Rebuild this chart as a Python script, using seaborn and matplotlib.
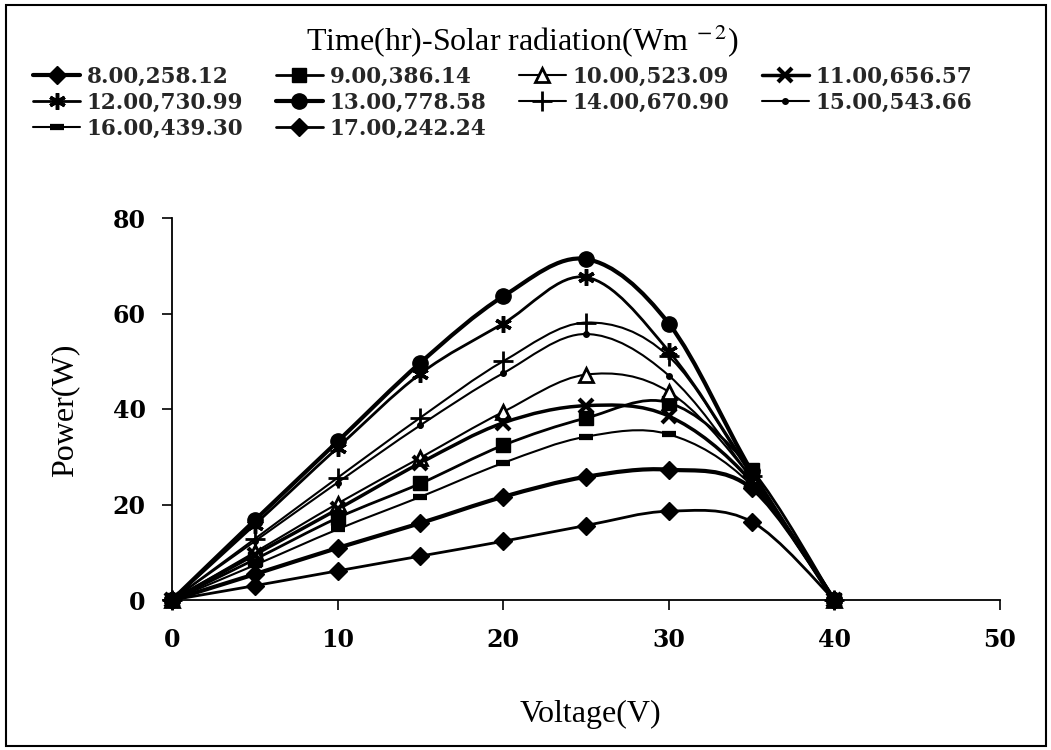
import numpy as np
import pandas as pd
import matplotlib
matplotlib.use("Agg")
import matplotlib.pyplot as plt
import seaborn as sns
from matplotlib.path import Path
from matplotlib.patches import PathPatch, Rectangle
from matplotlib.lines import Line2D

# ---------------- data ----------------
voltage = [0, 5, 10, 15, 20, 25, 30, 35, 40]
series_labels = ["8.00,258.12", "9.00,386.14", "10.00,523.09", "11.00,656.57",
                 "12.00,730.99", "13.00,778.58", "14.00,670.90", "15.00,543.66",
                 "16.00,439.30", "17.00,242.24"]
p_0800 = [0, 5.4, 10.9, 16.1, 21.6, 25.8, 27.3, 23.4, 0]
p_0900 = [0, 8.5, 17.2, 24.4, 32.4, 38.1, 41.3, 27.3, 0]
p_1000 = [0, 10.0, 20.2, 29.8, 39.4, 47.2, 43.6, 25.5, 0]
p_1100 = [0, 9.5, 19.0, 28.7, 37.1, 40.7, 38.5, 24.8, 0]
p_1200 = [0, 15.8, 31.9, 47.4, 57.9, 67.6, 52.1, 26.5, 0]
p_1300 = [0, 16.7, 33.2, 49.7, 63.6, 71.4, 57.9, 27.0, 0]
p_1400 = [0, 12.8, 25.6, 38.2, 50.0, 58.1, 51.0, 26.0, 0]
p_1500 = [0, 12.3, 24.6, 36.6, 47.5, 55.7, 47.0, 25.5, 0]
p_1600 = [0, 7.3, 14.8, 21.6, 28.7, 34.2, 34.7, 24.0, 0]
p_1700 = [0, 3.0, 6.1, 9.2, 12.3, 15.6, 18.6, 16.4, 0]
series_values = [p_0800, p_0900, p_1000, p_1100, p_1200,
                 p_1300, p_1400, p_1500, p_1600, p_1700]
x_ticks = [0, 10, 20, 30, 40, 50]
y_ticks = [0, 20, 40, 60, 80]

# ---------------- styles ----------------
styles = [
    dict(marker="D", ms=9, mfc="black", mew=1, lw=3.0),
    dict(marker="s", ms=9.5, mfc="black", mew=1, lw=2.0),
    dict(marker="^", ms=9.5, mfc="white", mew=2, lw=1.5),
    dict(marker="x", ms=10, mfc="black", mew=3, lw=2.5),
    dict(marker=(6, 2, 0), ms=12, mfc="black", mew=2.5, lw=2.0),
    dict(marker="o", ms=11, mfc="black", mew=1, lw=3.0),
    dict(marker="+", ms=14, mfc="black", mew=2, lw=1.5),
    dict(marker="o", ms=4, mfc="black", mew=1, lw=1.5),
    dict(marker="_", ms=10, mfc="black", mew=4.5, lw=1.5),
    dict(marker="D", ms=9, mfc="black", mew=1, lw=2.0),
]

sns.set_theme(style="ticks")
plt.rcParams["font.family"] = ["Liberation Serif", "DejaVu Serif"]
plt.rcParams["mathtext.fontset"] = "stix"

W, H = 1051, 750
fig = plt.figure(figsize=(W / 100, H / 100), dpi=100)
fig.patch.set_facecolor("white")
ax = fig.add_axes([172 / W, 150 / H, 828 / W, 382 / H])


def smooth_path(xs, ys):
    pts = np.column_stack([xs, ys]).astype(float)
    n = len(pts)
    verts = [pts[0]]
    codes = [Path.MOVETO]
    for i in range(n - 1):
        p0 = pts[i - 1] if i > 0 else pts[i]
        p1 = pts[i]
        p2 = pts[i + 1]
        p3 = pts[i + 2] if i + 2 < n else pts[i + 1]
        c1 = p1 + (p2 - p0) / 6.0
        c2 = p2 - (p3 - p1) / 6.0
        verts += [c1, c2, p2]
        codes += [Path.CURVE4] * 3
    return Path(verts, codes)


for vals, st in zip(series_values, styles):
    patch = PathPatch(smooth_path(voltage, vals), facecolor="none",
                      edgecolor="black", lw=st["lw"], zorder=2,
                      clip_on=False, capstyle="round", joinstyle="round")
    ax.add_patch(patch)
    n_before = len(ax.lines)
    sns.lineplot(x=voltage, y=vals, ax=ax, linestyle="", marker=st["marker"],
                 markersize=st["ms"], color="black", zorder=3, clip_on=False,
                 legend=False, sort=False, estimator=None)
    for ln in ax.lines[n_before:]:
        ln.set_markerfacecolor(st["mfc"])
        ln.set_markeredgecolor("black")
        ln.set_markeredgewidth(st["mew"])
        ln.set_alpha(1.0)

ax.set_xlim(0, 50)
ax.set_ylim(0, 80)
ax.set_xticks(x_ticks)
ax.set_yticks(y_ticks)
sns.despine(ax=ax, top=True, right=True)
for s in ["left", "bottom"]:
    ax.spines[s].set_color("black")
    ax.spines[s].set_linewidth(1.3)
ax.tick_params(axis="both", direction="out", length=7, width=1.2,
               color="black", labelsize=17, labelcolor="black")
ax.tick_params(axis="x", pad=13)
ax.tick_params(axis="y", pad=12)
for lab in ax.get_xticklabels() + ax.get_yticklabels():
    lab.set_family("DejaVu Serif")
    lab.set_weight("bold")

ax.set_xlabel("Voltage(V)", fontsize=23, color="black")
ax.set_ylabel("Power(W)", fontsize=23, color="black")
ax.xaxis.set_label_coords(0.505, -0.30)
ax.xaxis.label.set_va("center")
ax.yaxis.set_label_coords(-0.129, 0.497)
ax.yaxis.label.set_va("center")

fig.text(0.497, 1 - 41 / H, r"Time(hr)-Solar radiation(Wm$^{\ -2}$)",
         ha="center", va="center", fontsize=23, color="black")

handles = []
for st in styles:
    handles.append(Line2D([], [], color="black", lw=st["lw"], marker=st["marker"],
                          markersize=st["ms"], markerfacecolor=st["mfc"],
                          markeredgecolor="black", markeredgewidth=st["mew"]))
order = [0, 4, 8, 1, 5, 9, 2, 6, 3, 7]
fig.legend([handles[i] for i in order], [series_labels[i] for i in order],
           ncol=4, loc="upper left", bbox_to_anchor=(33 / W, 1 - 66 / H),
           frameon=False, prop=dict(family="DejaVu Serif", weight="bold", size=15.5),
           handlelength=2.2, handletextpad=0.3, columnspacing=1.5,
           labelspacing=0.17, borderaxespad=0, borderpad=0)

fig.add_artist(Rectangle((6 / W, 4 / H), (1046 - 6) / W, (745 - 4) / H,
                         transform=fig.transFigure, fill=False,
                         edgecolor="black", lw=1.5))

fig.savefig("out.png", dpi=100, facecolor="white")
